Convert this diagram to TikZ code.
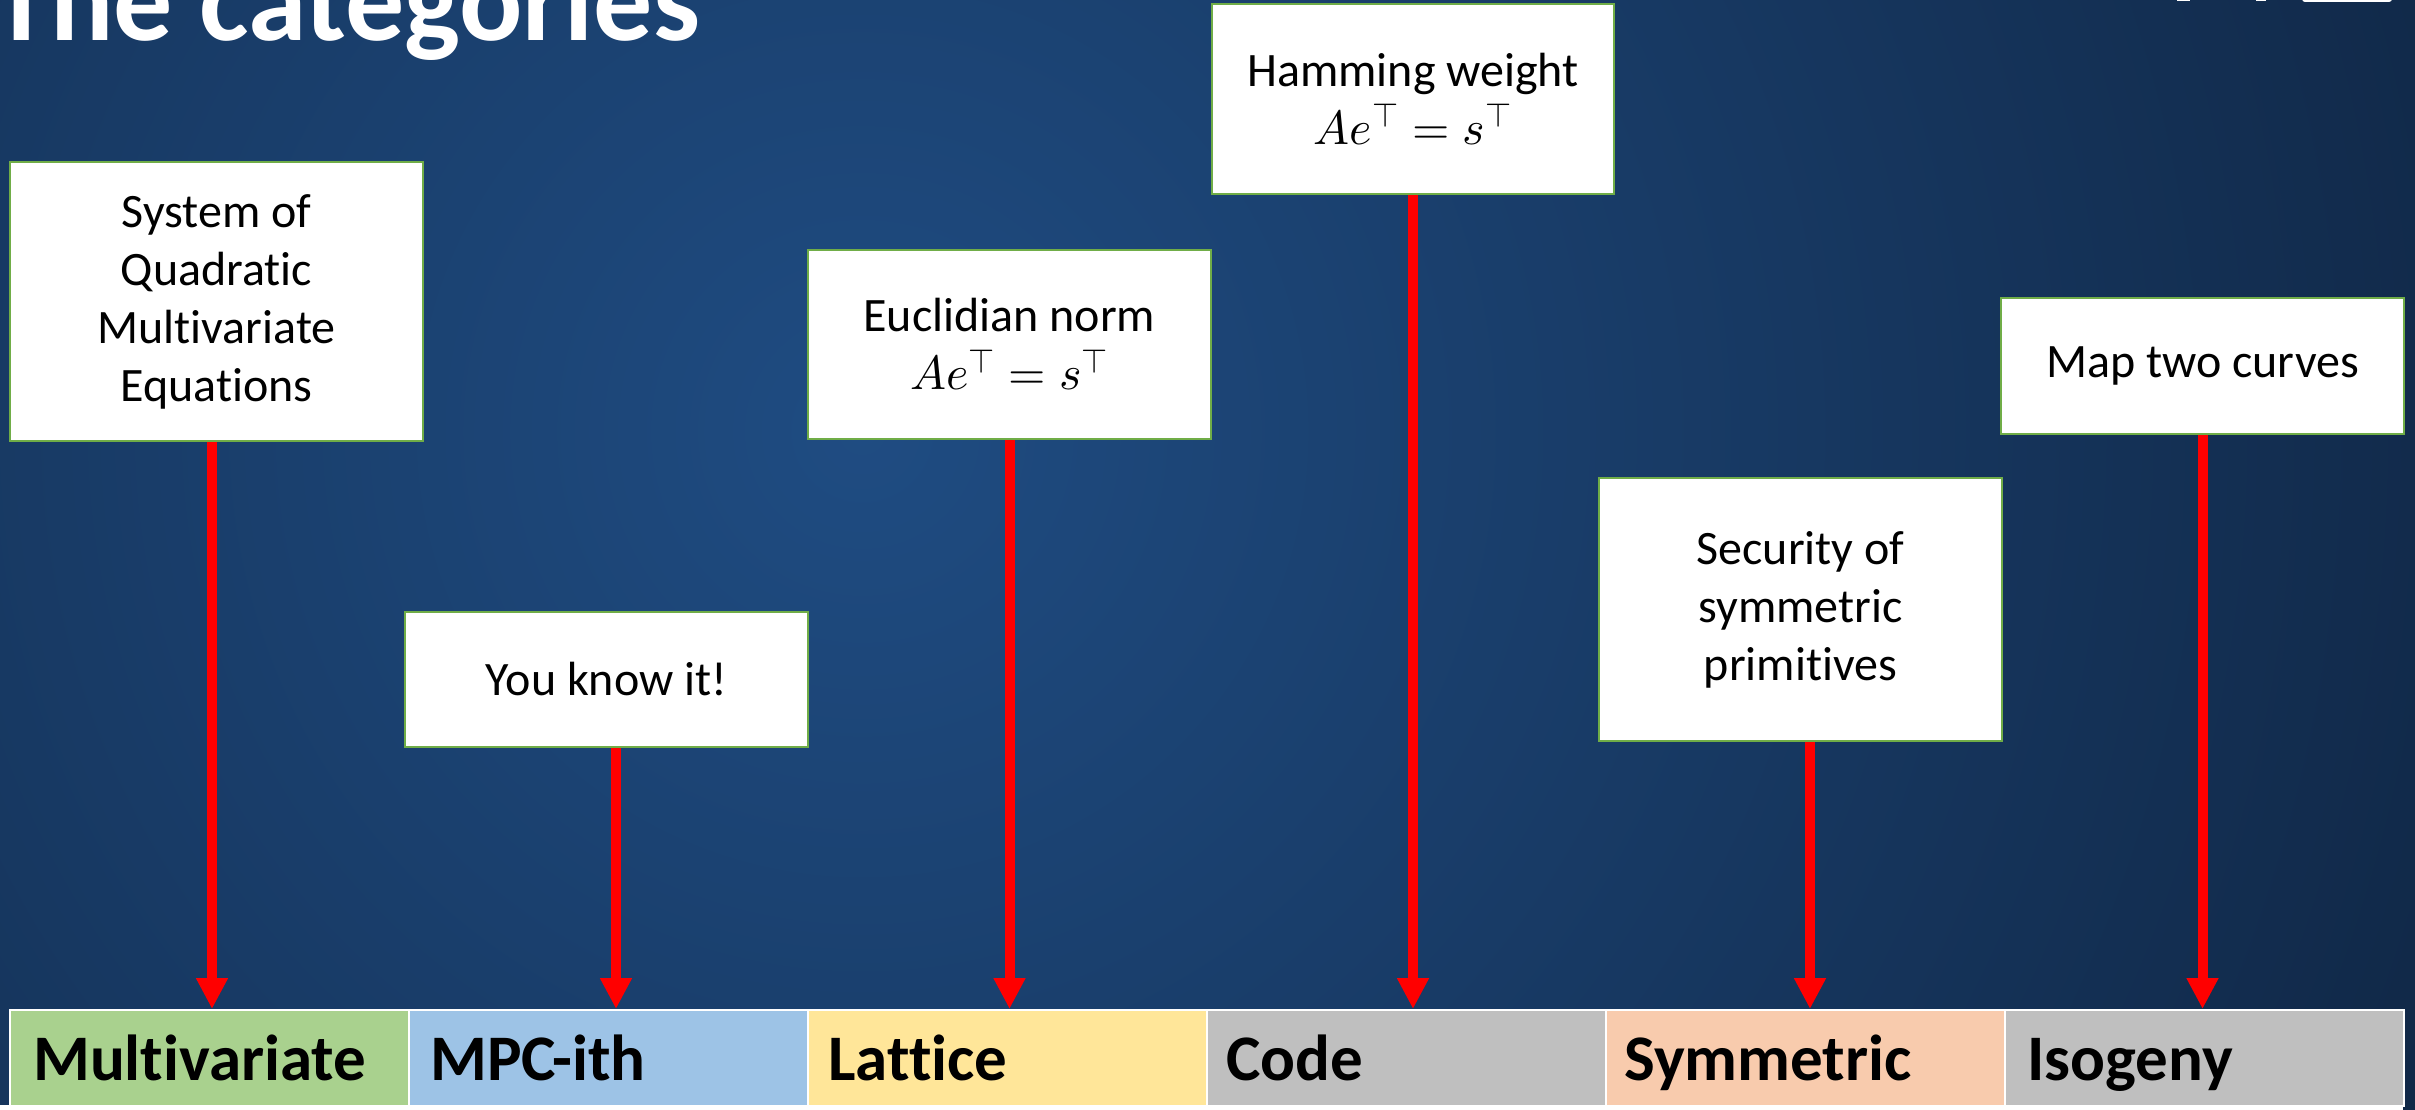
\documentclass[tikz,border=0pt]{standalone}
\usepackage{fontspec}
\usepackage{unicode-math}
\setmainfont{Carlito}[Ligatures=NoCommon, RawFeature={-liga;-clig;-calt}]
\setmathfont{Latin Modern Math}
\usetikzlibrary{arrows.meta,calc}
\definecolor{bgin}{RGB}{31,76,130}
\definecolor{bgout}{RGB}{11,27,50}
\definecolor{boxgreen}{RGB}{112,173,71}
\definecolor{cgreen}{RGB}{169,209,142}
\definecolor{cblue}{RGB}{157,195,230}
\definecolor{cyellow}{RGB}{255,230,153}
\definecolor{cgray}{RGB}{191,191,191}
\definecolor{cpeach}{RGB}{248,203,173}
\definecolor{arred}{RGB}{255,0,0}
\tikzset{
  infobox/.style={draw=boxgreen, line width=2.5pt, fill=white, inner sep=0pt, align=center,
    font=\fontsize{48}{58}\selectfont, text=black},
  cellbox/.style={draw=white, line width=2pt, inner sep=0pt, anchor=north west,
    minimum width=399pt, minimum height=96pt},
  celltext/.style={anchor=base west, inner sep=0pt, font=\fontsize{65}{70}\selectfont\bfseries, text=black},
  redarrow/.style={draw=arred, line width=10pt, -{Triangle[length=31pt,width=30pt]}}
}
\begin{document}
\begin{tikzpicture}[x=1pt,y=-1pt]
\useasboundingbox (0,0) rectangle (2415,1110);
\begin{scope}
\clip (0,0) rectangle (2415,1110);
\shade[inner color=bgin, outer color=bgout] (862,431) circle[radius=2300pt];
\fill[white] (0,1105) rectangle (2403,1110);
\end{scope}
% logo fragments at top right
\fill[white, rounded corners=3pt] (2302,-20) rectangle (2392,2);
\fill[white] (2177,-10) rectangle (2190,1.5);
\fill[white] (2256,-10) rectangle (2266,1);
% title
\node[anchor=base west, inner sep=0pt, text=white, font=\fontsize{118}{120}\selectfont\bfseries] (title) at (-8,41) {The categories};
% boxes
\node[infobox, minimum width=413pt, minimum height=279pt] (b1) at (216.5,301.5) {System of\\Quadratic\\Multivariate\\Equations};
\node[infobox, minimum width=403pt, minimum height=135pt] (b2) at (606.5,679.5) {You know it!};
\node[infobox, minimum width=403pt, minimum height=189pt] (b3) at (1009.5,344.5) {Euclidian norm\\$Ae^{\intercal}=s^{\intercal}$};
\node[infobox, minimum width=402pt, minimum height=190pt] (b4) at (1413,99) {Hamming weight\\$Ae^{\intercal}=s^{\intercal}$};
\node[infobox, minimum width=403pt, minimum height=263pt] (b5) at (1800.5,609.5) {Security of\\symmetric\\primitives};
\node[infobox, minimum width=403pt, minimum height=136pt] (b6) at (2202.5,366) {Map two curves};
% category bar
\node[cellbox, fill=cgreen] (c1) at (9,1009) {};
\node[cellbox, fill=cblue] (c2) at (408,1009) {};
\node[cellbox, fill=cyellow] (c3) at (807,1009) {};
\node[cellbox, fill=cgray] (c4) at (1206,1009) {};
\node[cellbox, fill=cpeach] (c5) at (1605,1009) {};
\node[cellbox, fill=cgray] (c6) at (2004,1009) {};
\node[celltext] (t1) at (33,1080) {Multivariate};
\node[celltext] (t2) at (430,1080) {MPC-ith};
\node[celltext] (t3) at (828,1080) {Lattice};
\node[celltext] (t4) at (1226,1080) {Code};
\node[celltext] (t5) at (1624,1080) {Symmetric};
\node[celltext] (t6) at (2027,1080) {Isogeny};
% arrows
\draw[redarrow] ([xshift=-4.5pt]b1.south) -- ([xshift=-4.5pt]b1.south |- c1.north);
\draw[redarrow] ([xshift=9.5pt]b2.south) -- ([xshift=9.5pt]b2.south |- c2.north);
\draw[redarrow] (b3.south) -- (b3.south |- c3.north);
\draw[redarrow] (b4.south) -- (b4.south |- c4.north);
\draw[redarrow] ([xshift=9.5pt]b5.south) -- ([xshift=9.5pt]b5.south |- c5.north);
\draw[redarrow] (b6.south) -- (b6.south |- c6.north);
\end{tikzpicture}
\end{document}
